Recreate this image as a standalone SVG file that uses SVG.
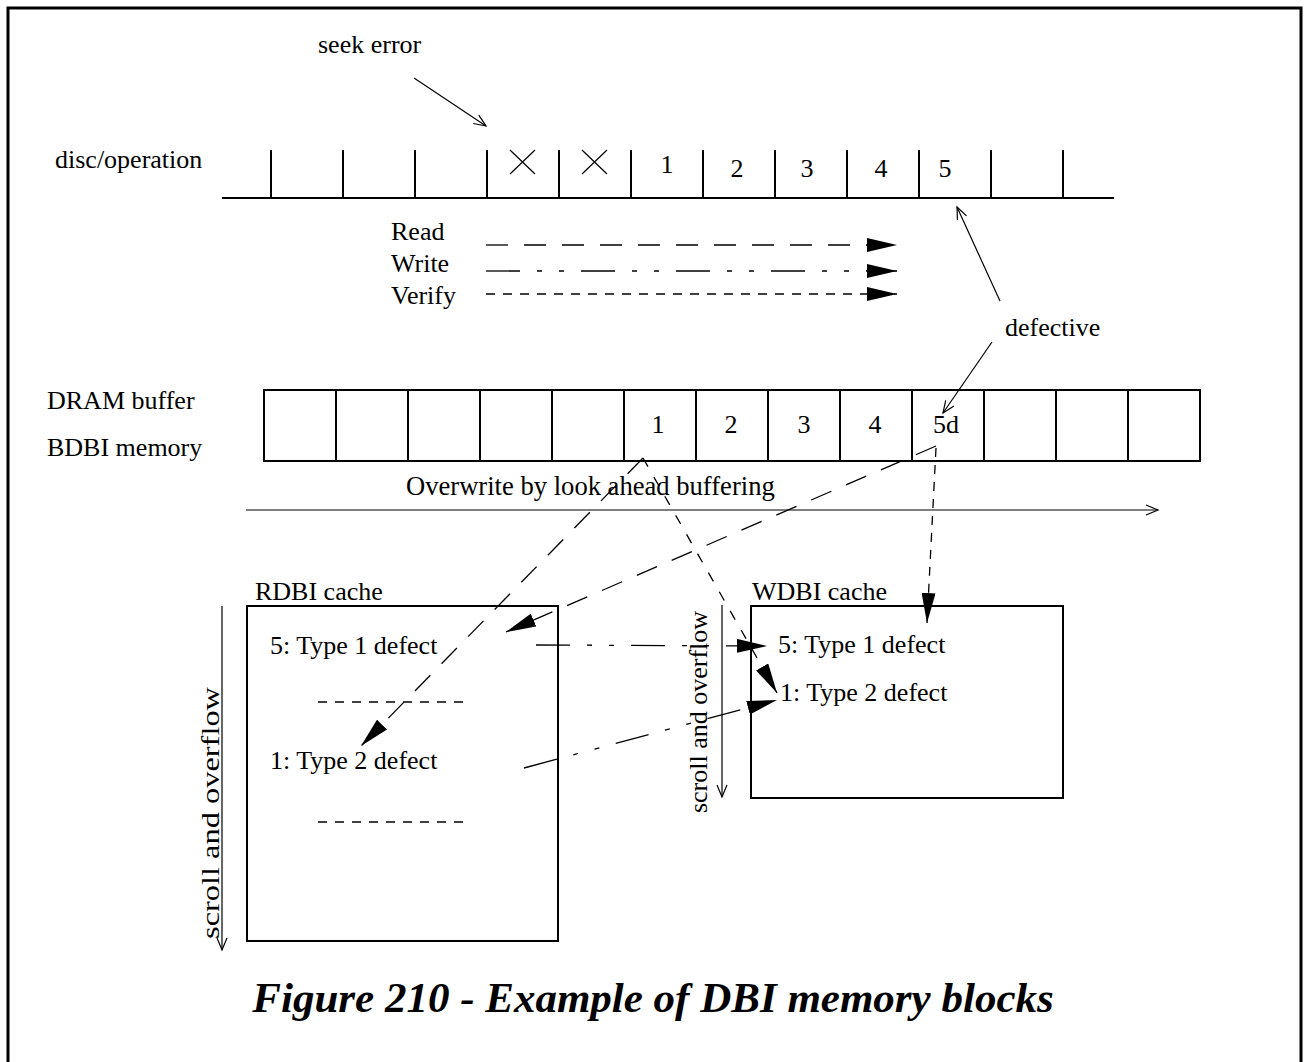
<svg xmlns="http://www.w3.org/2000/svg" width="1306" height="1062" viewBox="0 0 1306 1062">
<style>
text{font-family:"Liberation Serif","Times New Roman",serif;font-size:26px;fill:#000}
.cap{font-weight:bold;font-style:italic;font-size:43px}
.thick{stroke:#000;stroke-width:2;fill:none}
.thin{stroke:#000;stroke-width:1.2;fill:none}
.dash{stroke:#000;stroke-width:1.3;fill:none}
.read{stroke-dasharray:22 16}
.write{stroke-dasharray:34 17 5 17 5 17}
.verify{stroke-dasharray:9 8}
.vdiag{stroke-dasharray:10 12}
</style>
<defs>
<marker id="fa" viewBox="0 0 30 14" refX="30" refY="7" markerWidth="30" markerHeight="14" markerUnits="userSpaceOnUse" orient="auto">
<path d="M0,0 L30,7 L0,14 z" fill="#000" stroke="none"/>
</marker>
<marker id="oa" viewBox="-1 -1 14 12" refX="12" refY="5" markerWidth="14" markerHeight="12" markerUnits="userSpaceOnUse" orient="auto" overflow="visible">
<path d="M0,0 L12,5 L0,10" fill="none" stroke="#000" stroke-width="1.2"/>
</marker>
</defs>
<rect width="1306" height="1062" fill="#fff"/>
<path d="M8,1070 V8 H1301 V1070" fill="none" stroke="#000" stroke-width="3"/>

<g id="seek-error">
<text x="318" y="53">seek error</text>
</g>

<g id="disc">
<text x="55" y="168">disc/operation</text>
<path class="thick" d="M222,198 H1114 M271,150V198 M343,150V198 M415,150V198 M487,150V198 M559,150V198 M631,150V198 M703,150V198 M775,150V198 M847,150V198 M919,150V198 M991,150V198 M1063,150V198"/>
<path class="thin" d="M510,150L535,174 M535,150L510,174 M582,150L607,174 M607,150L582,174"/>
<text x="667" y="173" text-anchor="middle">1</text>
<text x="737" y="177" text-anchor="middle">2</text>
<text x="807" y="177" text-anchor="middle">3</text>
<text x="881" y="177" text-anchor="middle">4</text>
<text x="945" y="177" text-anchor="middle">5</text>
</g>

<g id="legend">
<text x="391" y="240">Read</text>
<text x="391" y="272">Write</text>
<text x="391" y="304">Verify</text>
<line class="dash read" x1="486" y1="245" x2="897" y2="245" marker-end="url(#fa)"/>
<line class="dash write" x1="486" y1="271" x2="897" y2="271" marker-end="url(#fa)"/>
<line class="dash verify" x1="486" y1="294" x2="897" y2="294" marker-end="url(#fa)"/>
</g>

<g id="defective">
<text x="1005" y="336">defective</text>
</g>

<g id="dram">
<text x="47" y="409">DRAM buffer</text>
<text x="47" y="456">BDBI memory</text>
<rect class="thick" x="264" y="390" width="936" height="71"/>
<path class="thick" d="M336,390V461 M408,390V461 M480,390V461 M552,390V461 M624,390V461 M696,390V461 M768,390V461 M840,390V461 M912,390V461 M984,390V461 M1056,390V461 M1128,390V461"/>
<text x="658" y="433" text-anchor="middle">1</text>
<text x="731" y="433" text-anchor="middle">2</text>
<text x="804" y="433" text-anchor="middle">3</text>
<text x="875" y="433" text-anchor="middle">4</text>
<text x="933" y="433">5d</text>
</g>

<g id="overwrite">
<text x="406" y="495" style="font-size:26.6px">Overwrite by look ahead buffering</text>
</g>

<g id="rdbi">
<text x="255" y="600">RDBI cache</text>
<rect class="thick" x="247" y="606" width="311" height="335"/>
<text x="270" y="654">5: Type 1 defect</text>
<text x="270" y="769">1: Type 2 defect</text>
<path class="dash" stroke-dasharray="9 8" d="M318,702 H465 M318,822 H465"/>
<text transform="translate(219,813) rotate(-90)" text-anchor="middle" textLength="252" lengthAdjust="spacingAndGlyphs">scroll and overflow</text>
</g>

<g id="wdbi">
<text x="752" y="600">WDBI cache</text>
<rect class="thick" x="751" y="606" width="312" height="192"/>
<text x="778" y="653">5: Type 1 defect</text>
<text x="780" y="701">1: Type 2 defect</text>
<text transform="translate(707,712) rotate(-90)" text-anchor="middle">scroll and overflow</text>
</g>

<g id="connectors">
<line class="thin" x1="414" y1="78" x2="486" y2="126" marker-end="url(#oa)"/>
<line class="thin" x1="1000" y1="301" x2="957" y2="207" marker-end="url(#oa)"/>
<line class="thin" x1="992" y1="342" x2="943" y2="413" marker-end="url(#oa)"/>
<line class="thin" x1="246" y1="510" x2="1158" y2="510" marker-end="url(#oa)"/>
<line class="thin" x1="222" y1="606" x2="222" y2="950" marker-end="url(#oa)"/>
<line class="thin" x1="722" y1="605" x2="722" y2="797" marker-end="url(#oa)"/>
<line class="dash read" x1="936" y1="446" x2="506" y2="632" marker-end="url(#fa)"/>
<line class="dash read" x1="643" y1="458" x2="361" y2="746" marker-end="url(#fa)"/>
<line class="dash vdiag" x1="643" y1="458" x2="777" y2="693" marker-end="url(#fa)"/>
<line class="dash verify" x1="936" y1="448" x2="927" y2="623" marker-end="url(#fa)"/>
<line class="dash write" x1="536" y1="645" x2="767" y2="646" marker-end="url(#fa)"/>
<line class="dash write" x1="524" y1="768" x2="777" y2="700" marker-end="url(#fa)"/>
</g>

<g id="caption">
<text class="cap" x="653" y="1012" text-anchor="middle">Figure 210 - Example of DBI memory blocks</text>
</g>
</svg>
